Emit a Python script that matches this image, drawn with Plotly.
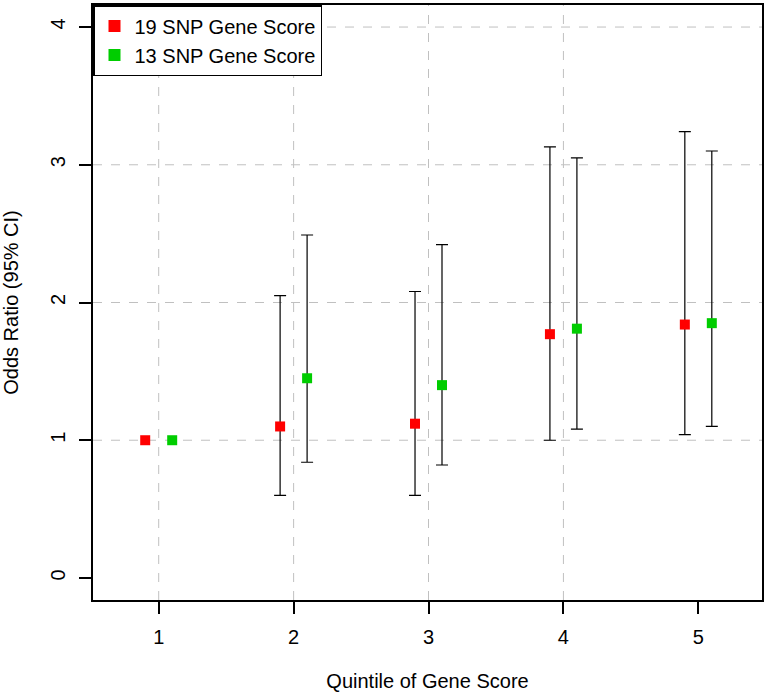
import plotly.graph_objects as go

quintiles = [1, 2, 3, 4, 5]
or19 = [1.00, 1.10, 1.12, 1.77, 1.84]
lo19 = [None, 0.60, 0.60, 1.00, 1.04]
hi19 = [None, 2.05, 2.08, 3.13, 3.24]
or13 = [1.00, 1.45, 1.40, 1.81, 1.85]
lo13 = [None, 0.84, 0.82, 1.08, 1.10]
hi13 = [None, 2.49, 2.42, 3.05, 3.10]
offset = 0.1
x_grid = [1, 2, 3, 4]
y_grid = [1, 2, 3, 4]

def errs(v, lo, hi):
    plus = [(h - m) if h is not None else 0 for m, h in zip(v, hi)]
    minus = [(m - l) if l is not None else 0 for m, l in zip(v, lo)]
    vis = [h is not None for h in hi]
    return plus, minus, vis

fig = go.Figure()
for name, vals, lo, hi, col, sh in [
    ("19 SNP Gene Score", or19, lo19, hi19, "#FF0000", -offset),
    ("13 SNP Gene Score", or13, lo13, hi13, "#00CD00", offset),
]:
    plus, minus, vis = errs(vals, lo, hi)
    xs = [q + sh for q in quintiles]
    xe = [x for x, v in zip(xs, vis) if v]
    ye = [y for y, v in zip(vals, vis) if v]
    pe = [p for p, v in zip(plus, vis) if v]
    me = [m for m, v in zip(minus, vis) if v]
    fig.add_trace(go.Scatter(
        x=xe, y=ye, mode="markers", marker=dict(size=1, color="rgba(0,0,0,0)"),
        error_y=dict(type="data", array=pe, arrayminus=me, color="black",
                     thickness=1.2, width=6),
        showlegend=False, hoverinfo="skip"))
    fig.add_trace(go.Scatter(
        x=xs, y=vals, mode="markers", name=name,
        marker=dict(symbol="square", size=10, color=col)))

shapes = []
for gx in x_grid:
    shapes.append(dict(type="line", xref="x", yref="paper", x0=gx, x1=gx, y0=0, y1=1,
                       line=dict(color="#C0C0C0", width=1, dash="dash"), layer="below"))
for gy in y_grid:
    shapes.append(dict(type="line", xref="paper", yref="y", x0=0, x1=1, y0=gy, y1=gy,
                       line=dict(color="#C0C0C0", width=1, dash="dash"), layer="below"))

font = "Liberation Sans, Arial, sans-serif"
fig.update_layout(
    width=767, height=695,
    margin=dict(l=93, r=3, t=3, b=95),
    paper_bgcolor="white", plot_bgcolor="white",
    font=dict(family=font, size=20, color="black"),
    shapes=shapes,
    showlegend=True,
    legend=dict(x=0, y=1, xanchor="left", yanchor="top",
                bgcolor="white", bordercolor="black", borderwidth=1.5,
                font=dict(size=20), itemsizing="constant",
                tracegroupgap=0),
    xaxis=dict(range=[0.513, 5.472], tickvals=quintiles, ticktext=[str(q) for q in quintiles],
               showgrid=False, zeroline=False, showline=True, linecolor="black",
               linewidth=1.5, mirror=True, ticks="outside", ticklen=12,
               tickcolor="black", tickwidth=1.5, ticklabelstandoff=6,
               title=dict(text="Quintile of Gene Score", standoff=27, font=dict(size=20))),
    yaxis=dict(range=[-0.16, 4.16], tickvals=[0, 1, 2, 3, 4], tickangle=-90,
               showgrid=False, zeroline=False, showline=True, linecolor="black",
               linewidth=1.5, mirror=True, ticks="outside", ticklen=12,
               tickcolor="black", tickwidth=1.5, ticklabelstandoff=6,
               title=dict(text="Odds Ratio (95% CI)", standoff=23, font=dict(size=20))),
)

fig.write_html("out.html", config={"displayModeBar": False},
               post_script="document.body.style.margin='0';")
